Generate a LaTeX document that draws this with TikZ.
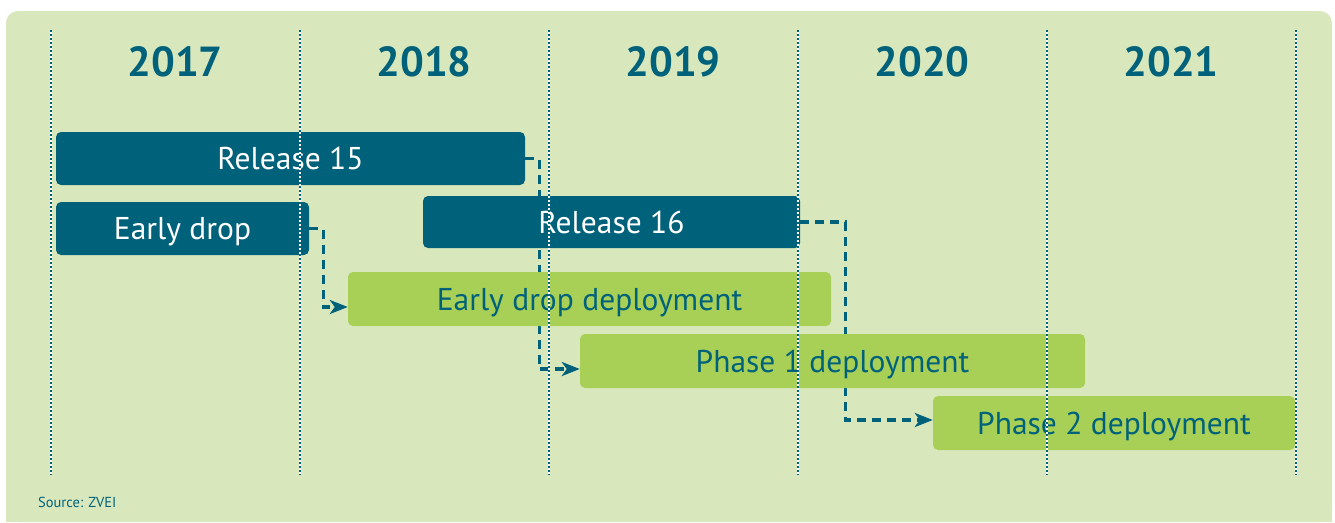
\documentclass[tikz,border=0pt]{standalone}
\usepackage{fontspec}
\setmainfont{PT Sans}
\usetikzlibrary{arrows.meta}
\definecolor{teal}{HTML}{00627A}
\definecolor{lgreen}{HTML}{A8CF56}
\definecolor{bgc}{HTML}{D9E8BC}
\pgfdeclarelayer{bg}
\pgfdeclarelayer{conns}
\pgfdeclarelayer{fg}
\pgfsetlayers{bg,conns,main,fg}
\tikzset{
  boxbase/.style={rounded corners=5pt, inner sep=0pt, text height=22pt, text depth=0pt, font=\fontsize{31.5}{36}\selectfont},
  dbox/.style={boxbase, fill=teal, text=white},
  gbox/.style={boxbase, fill=lgreen, text=teal},
  year/.style={text=teal, inner sep=0pt, text height=30pt, text depth=0pt, font=\bfseries\fontsize{42}{48}\selectfont},
  conn/.style={draw=teal, line width=3.2pt, dash pattern=on 9pt off 6pt, -{Stealth[length=18pt,width=14pt,inset=5pt]}},
  gridw/.style={draw=white, line width=1.3pt},
  gridd/.style={draw=teal, line width=1.3pt, dash pattern=on 2pt off 2pt}
}
\begin{document}
\begin{tikzpicture}[x=1pt,y=-1pt]
\useasboundingbox (0,0) rectangle (1335,522);
\begin{pgfonlayer}{bg}
\fill[bgc, rounded corners=12pt] (6,11) rectangle (1332,522);
\fill[bgc] (6,100) rectangle (1332,522);
\end{pgfonlayer}
% years
\foreach \yr/\xc in {2017/175,2018/424,2019/673,2020/922,2021/1171}
  \node[year] (y\yr) at (\xc,61) {\yr};
% boxes
\node[dbox, minimum width=469pt, minimum height=53pt] (r15) at (290.5,158.5) {Release 15};
\node[dbox, minimum width=253pt, minimum height=53pt] (ed) at (182.5,228.5) {Early drop};
\node[dbox, minimum width=377pt, minimum height=52pt] (r16) at (611.5,222) {Release 16};
\node[gbox, minimum width=483pt, minimum height=54pt] (edd) at (589.5,299) {Early drop deployment};
\node[gbox, minimum width=505pt, minimum height=54pt] (p1) at (832.5,361) {Phase 1 deployment};
\node[gbox, minimum width=362pt, minimum height=54pt] (p2) at (1114,423) {Phase 2 deployment};
% connector targets
\coordinate (eddin) at ([yshift=-8pt]edd.west);
\coordinate (p1in) at ([yshift=-8pt]p1.west);
\coordinate (p2in) at ([yshift=3pt]p2.west);
\begin{pgfonlayer}{conns}
\path[conn] (r15.east) -- ++(14,0) |- (p1in);
\path[conn] (ed.east) -- ++(14,0) |- (eddin);
\path[conn] (r16.east) -- ++(45,0) |- (p2in);
\end{pgfonlayer}
\begin{pgfonlayer}{fg}
\foreach \gx in {51,300,549,798,1047,1296} {
  \path[gridw] (\gx,30) -- (\gx,475);
  \path[gridd] (\gx,30) -- (\gx,475);
}
\end{pgfonlayer}
\node[anchor=west, text=teal, font=\fontsize{14.5}{17}\selectfont, inner sep=0pt] (src) at (38,502) {Source: ZVEI};
\end{tikzpicture}
\end{document}
